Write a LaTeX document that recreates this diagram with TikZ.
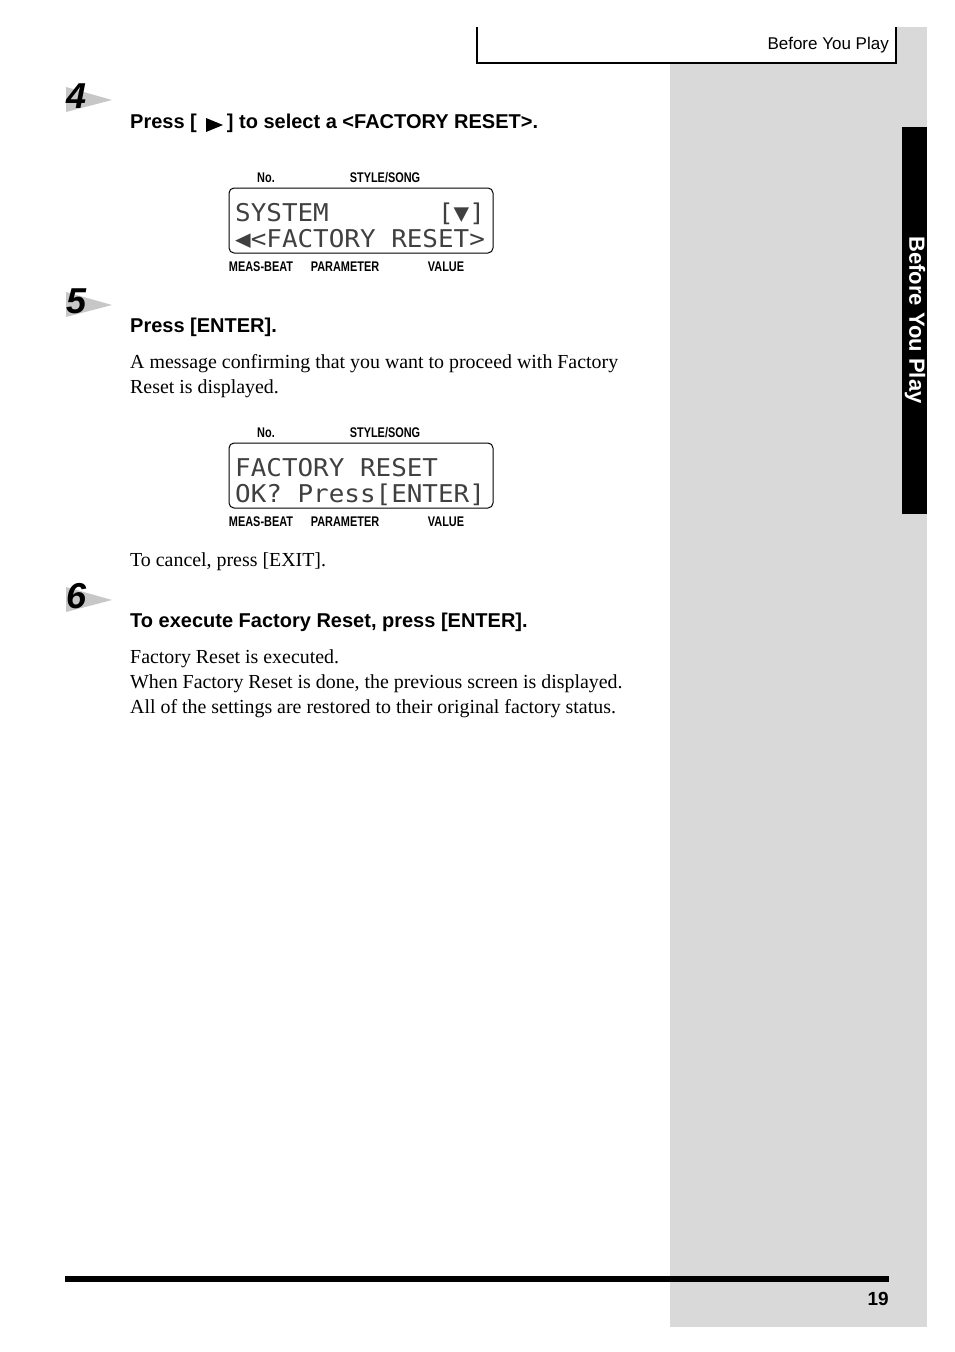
\documentclass[tikz,border=0pt]{standalone}
\usepackage{fontspec}
\setmainfont{Liberation Serif}
\setsansfont{Liberation Sans}
\newfontfamily\lcd{DejaVu Sans Mono}
\begin{document}
\begin{tikzpicture}[x=1pt,y=-1pt,
  body/.style={anchor=base west,inner sep=0,font=\fontsize{19.9}{25}\selectfont},
  head/.style={anchor=base west,inner sep=0,font=\sffamily\bfseries\fontsize{20}{23}\selectfont},
  lbl/.style={anchor=base,inner sep=0,xscale=0.78,font=\sffamily\bfseries\fontsize{14}{14}\selectfont},
  lcdtxt/.style={anchor=base west,inner sep=0,xscale=1.08,yscale=1.02,text=black!75,font=\lcd\fontsize{24}{24}\selectfont},
  num/.style={anchor=base west,inner sep=0,font=\sffamily\bfseries\itshape\fontsize{36}{36}\selectfont},
  wedge/.style={fill=black!22,draw=none}]
\useasboundingbox (0,0) rectangle (954,1352);
\fill[black!15] (670,63) rectangle (927,1327);
\fill[black!15] (897,27) rectangle (927,63);
\draw[line width=1.5] (477,27) -- (477,63) -- (897,63);
\draw[line width=2] (896,27) -- (896,63);
\node[anchor=base east,inner sep=0,font=\sffamily\fontsize{17}{17}\selectfont] (hdr) at (889,49) {Before You Play};
\fill (902,127) rectangle (927,514);
\node[rotate=-90,text=white,inner sep=0,font=\sffamily\bfseries\fontsize{22}{22}\selectfont] (tab) at (915,320) {Before You Play};
% step 4
\fill[wedge] (66,87) -- (112,100) -- (66,112) -- cycle;
\node[num] (n4) at (66,108) {4};
\node[head] (h4) at (130,128) {Press [\hspace{30pt}] to select a <FACTORY RESET>.};
\fill (206,118) -- (223,125) -- (206,132) -- cycle;
% display 1
\node[lbl] (a1) at (266,182) {No.};
\node[lbl] (b1) at (385,182) {STYLE/SONG};
\draw[line width=1,rounded corners=5] (229,188) rectangle (493,253);
\node[lcdtxt] (l11) at (235,221) {SYSTEM\ \ \ \ \ \ \ [▼]};
\node[lcdtxt] (l12) at (235,247) {◀<FACTORY RESET>};
\node[lbl] (c1) at (261,271) {MEAS-BEAT};
\node[lbl] (d1) at (345,271) {PARAMETER};
\node[lbl] (e1) at (446,271) {VALUE};
% step 5
\fill[wedge] (66,292) -- (112,305) -- (66,317) -- cycle;
\node[num] (n5) at (66,313) {5};
\node[head] (h5) at (130,332) {Press [ENTER].};
\node[body] (t51) at (130,368) {A message confirming that you want to proceed with Factory};
\node[body] (t52) at (130,393) {Reset is displayed.};
% display 2
\node[lbl] (a2) at (266,437) {No.};
\node[lbl] (b2) at (385,437) {STYLE/SONG};
\draw[line width=1,rounded corners=5] (229,443) rectangle (493,508);
\node[lcdtxt] (l21) at (235,476) {FACTORY RESET};
\node[lcdtxt] (l22) at (235,502) {OK? Press[ENTER]};
\node[lbl] (c2) at (261,526) {MEAS-BEAT};
\node[lbl] (d2) at (345,526) {PARAMETER};
\node[lbl] (e2) at (446,526) {VALUE};
\node[body] (t53) at (130,566) {To cancel, press [EXIT].};
% step 6
\fill[wedge] (66,587) -- (112,600) -- (66,612) -- cycle;
\node[num] (n6) at (66,608) {6};
\node[head] (h6) at (130,627) {To execute Factory Reset, press [ENTER].};
\node[body] (t61) at (130,663) {Factory Reset is executed.};
\node[body] (t62) at (130,688) {When Factory Reset is done, the previous screen is displayed.};
\node[body] (t63) at (130,713) {All of the settings are restored to their original factory status.};
% footer
\fill (65,1276) rectangle (889,1282);
\node[anchor=base east,inner sep=0,font=\sffamily\bfseries\fontsize{19}{19}\selectfont] (pg) at (889,1305) {19};
\end{tikzpicture}
\end{document}
